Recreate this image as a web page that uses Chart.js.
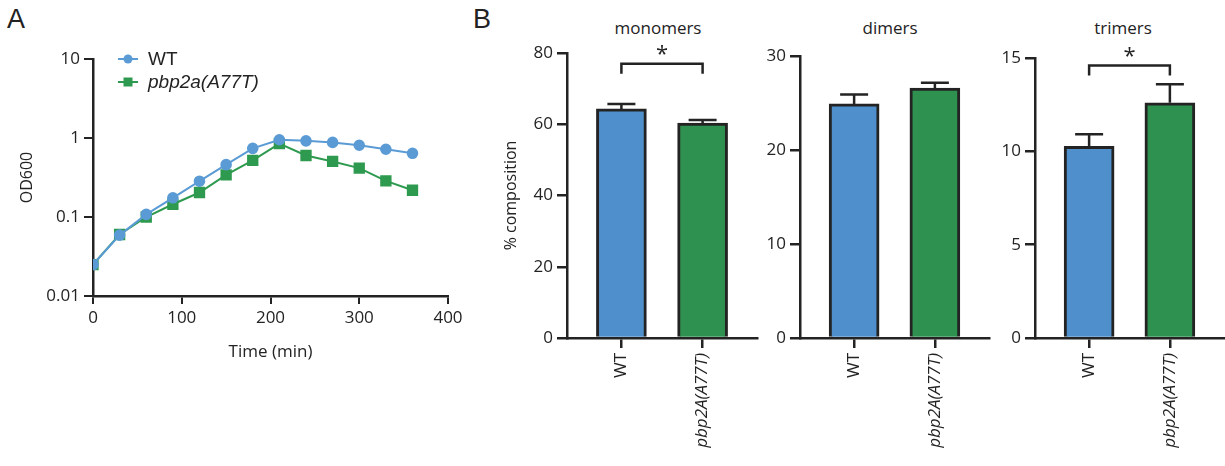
<!DOCTYPE html>
<html>
<head>
<meta charset="utf-8">
<script src="https://cdn.jsdelivr.net/npm/chart.js@4"></script>
<style>
  body { margin: 0; background: #fff; width: 1225px; height: 466px; position: relative; overflow: hidden; font-family: "Open Sans", sans-serif; color: #222; }
  canvas { position: absolute; }
  .lbl { position: absolute; white-space: nowrap; }
  .panel { font-size: 27px; font-family: "Liberation Sans", sans-serif; top: 4px; }
  .ttl { font-size: 17px; top: 16px; transform: translateX(-50%); }
</style>
</head>
<body>
<div class="lbl panel" style="left:7px">A</div>
<div class="lbl panel" style="left:473px">B</div>
<div class="lbl ttl" style="left:658px">monomers</div>
<div class="lbl ttl" style="left:890px">dimers</div>
<div class="lbl ttl" style="left:1123px">trimers</div>

<canvas id="growth" style="left:0;top:0" width="470" height="380"></canvas>
<canvas id="mono" style="left:480px;top:0" width="280" height="466"></canvas>
<canvas id="di" style="left:760px;top:0" width="232" height="466"></canvas>
<canvas id="tri" style="left:995px;top:0" width="230" height="466"></canvas>

<script>
// ---- data ----
const timeMin = [0, 30, 60, 90, 120, 150, 180, 210, 240, 270, 300, 330, 360];
const wtOD    = [0.025, 0.059, 0.108, 0.175, 0.284, 0.46, 0.74, 0.95, 0.92, 0.88, 0.81, 0.72, 0.64];
const mutOD   = [0.025, 0.060, 0.100, 0.145, 0.204, 0.342, 0.52, 0.85, 0.60, 0.505, 0.416, 0.287, 0.218];
const odTicks = [0.01, 0.1, 1, 10];

const groups = ['WT', 'pbp2A(A77T)'];
const monomerMean = [64.3, 60.3];
const monomerErr  = [1.4, 0.9];
const dimerMean   = [24.9, 26.6];
const dimerErr    = [1.0, 0.55];
const trimerMean  = [10.27, 12.6];
const trimerErr   = [0.65, 1.0];

const INK = '#232323';
const BLUE_LINE = '#5B9BD5', GREEN_LINE = '#2E9A4F';
const BLUE_BAR = '#4F8FCB', GREEN_BAR = '#2E914F';
const FONT = 'Open Sans';

// ---- panel A : growth curve ----
const legendA = {
  id: 'legendA',
  afterDraw(chart) {
    const {ctx, chartArea} = chart;
    ctx.save();
    chart.data.datasets.forEach((ds, i) => {
      const y = chartArea.top + i * 23;
      const x0 = chartArea.left + 25;
      ctx.strokeStyle = ds.borderColor;
      ctx.lineWidth = 2;
      ctx.beginPath(); ctx.moveTo(x0, y); ctx.lineTo(x0 + 20, y); ctx.stroke();
      ctx.fillStyle = ds.borderColor;
      if (ds.pointStyle === 'rect') ctx.fillRect(x0 + 5.5, y - 4.5, 9, 9);
      else { ctx.beginPath(); ctx.arc(x0 + 10, y, 4.5, 0, Math.PI * 2); ctx.fill(); }
      ctx.fillStyle = INK;
      ctx.font = (i === 1 ? 'italic ' : '') + '19px "Liberation Sans"';
      ctx.textBaseline = 'middle';
      ctx.fillText(ds.label, x0 + 30, y + 1);
    });
    ctx.restore();
  }
};

new Chart(document.getElementById('growth'), {
  type: 'line',
  data: {
    datasets: [
      { label: 'WT', data: timeMin.map((t, i) => ({x: t, y: wtOD[i]})),
        borderColor: BLUE_LINE, backgroundColor: BLUE_LINE, borderWidth: 2,
        pointStyle: 'circle', pointRadius: 4.8 },
      { label: 'pbp2a(A77T)', data: timeMin.map((t, i) => ({x: t, y: mutOD[i]})),
        borderColor: GREEN_LINE, backgroundColor: GREEN_LINE, borderWidth: 2,
        pointStyle: 'rect', pointRadius: 6.6 }
    ]
  },
  options: {
    responsive: false, animation: false,
    layout: { padding: { top: 59, right: 22, left: 0, bottom: 0 } },
    plugins: { legend: { display: false }, tooltip: { enabled: false } },
    scales: {
      x: {
        type: 'linear', min: 0, max: 400,
        afterFit: s => { s.height = 84; },
        ticks: { stepSize: 100, color: INK, padding: 4, font: { family: FONT, size: 17 } },
        grid: { drawOnChartArea: false, tickLength: 8, color: INK, lineWidth: 2 },
        border: { color: INK, width: 2.5 },
        title: { display: true, text: 'Time (min)', color: INK, font: { family: FONT, size: 17 }, padding: { bottom: 18 } }
      },
      y: {
        type: 'logarithmic', min: 0.01, max: 10,
        afterFit: s => { s.width = 93; },
        afterBuildTicks: s => { s.ticks = odTicks.map(v => ({value: v})); },
        ticks: { color: INK, padding: 4, font: { family: FONT, size: 17 }, callback: v => String(v) },
        grid: { drawOnChartArea: false, tickLength: 9, color: INK, lineWidth: 2 },
        border: { color: INK, width: 2.5 },
        title: { display: true, text: 'OD600', color: INK, font: { family: FONT, size: 16 }, padding: { top: 18 } }
      }
    }
  },
  plugins: [legendA]
});

// ---- panel B : bar charts ----
const errorBars = {
  id: 'errorBars',
  afterDatasetsDraw(chart, args, opts) {
    const {ctx} = chart;
    const yScale = chart.scales.y;
    const meta = chart.getDatasetMeta(0);
    ctx.save();
    ctx.strokeStyle = INK; ctx.lineWidth = 2.5;
    meta.data.forEach((el, i) => {
      const top = yScale.getPixelForValue(opts.mean[i] + opts.err[i]);
      ctx.beginPath();
      ctx.moveTo(el.x, el.y); ctx.lineTo(el.x, top);
      ctx.moveTo(el.x - 14, top); ctx.lineTo(el.x + 14, top);
      ctx.stroke();
    });
    if (opts.sig != null) {
      const a = meta.data[0].x, b = meta.data[1].x;
      const y = yScale.getPixelForValue(opts.sig);
      ctx.beginPath();
      ctx.moveTo(a, y + 10); ctx.lineTo(a, y); ctx.lineTo(b, y); ctx.lineTo(b, y + 10);
      ctx.stroke();
      ctx.fillStyle = INK;
      ctx.font = '22px "' + FONT + '"';
      ctx.textAlign = 'center'; ctx.textBaseline = 'middle';
      ctx.fillText('*', (a + b) / 2, y - 9);
    }
    ctx.restore();
  }
};

function barChart(id, mean, err, yMax, step, yWidth, padTop, padRight, sig, yTitle) {
  new Chart(document.getElementById(id), {
    type: 'bar',
    data: {
      datasets: [{
        data: mean.map((v, i) => ({x: i, y: v})),
        backgroundColor: [BLUE_BAR, GREEN_BAR],
        borderColor: INK, borderWidth: 3, borderSkipped: 'bottom',
        barThickness: 50
      }]
    },
    options: {
      responsive: false, animation: false,
      layout: { padding: { top: padTop, right: padRight, left: 0, bottom: 0 } },
      plugins: { legend: { display: false }, tooltip: { enabled: false },
                 errorBars: { mean: mean, err: err, sig: sig } },
      scales: {
        x: {
          type: 'linear', min: -0.67, max: 1.67, offset: false,
          afterFit: s => { s.height = 128; },
          afterBuildTicks: s => { s.ticks = groups.map((g, i) => ({value: i})); },
          ticks: {
            color: INK, padding: 5, minRotation: 90, maxRotation: 90, autoSkip: false,
            callback: v => groups[v],
            font: c => ({ family: FONT, size: 17, style: c.index === 1 ? 'italic' : 'normal' })
          },
          grid: { offset: false, drawOnChartArea: false, tickLength: 10, color: INK, lineWidth: 2.5 },
          border: { color: INK, width: 2.5 }
        },
        y: {
          min: 0, max: yMax,
          afterFit: s => { s.width = yWidth; },
          ticks: { stepSize: step, color: INK, padding: 4, font: { family: FONT, size: 17 } },
          grid: { drawOnChartArea: false, tickLength: 10, color: INK, lineWidth: 2.5 },
          border: { color: INK, width: 2.5 },
          title: { display: !!yTitle, text: yTitle || '', color: INK, font: { family: FONT, size: 16 }, padding: { top: 22 } }
        }
      }
    },
    plugins: [errorBars]
  });
}

barChart('mono', monomerMean, monomerErr, 80, 20, 87, 53, 3, 77, '% composition');
barChart('di', dimerMean, dimerErr, 30, 10, 40, 56, 3, null, null);
barChart('tri', trimerMean, trimerErr, 15, 5, 40, 58, 1, 14.6, null);
</script>
</body>
</html>
